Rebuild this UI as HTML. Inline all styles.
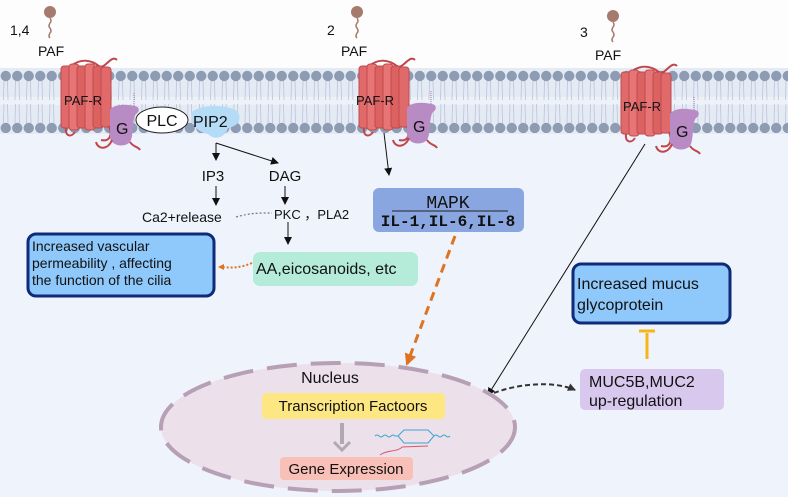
<!DOCTYPE html>
<html><head><meta charset="utf-8"><style>
html,body{margin:0;padding:0;background:#fff}
svg{display:block}
text{font-family:"Liberation Sans",sans-serif;fill:#111}
</style></head><body>
<svg width="788" height="497" viewBox="0 0 788 497" xmlns="http://www.w3.org/2000/svg">
<defs>
<pattern id="beads" x="0" y="0" width="11.5" height="70" patternUnits="userSpaceOnUse">
<circle cx="5.75" cy="6" r="5.2" fill="#8e9cb3"/>
<circle cx="5.75" cy="58" r="5.2" fill="#8e9cb3"/>
<path d="M4 11 L3.5 30 M7.5 11 L8 30 M4 34 L3.5 53 M7.5 34 L8 53" stroke="#b9c4d8" stroke-width="0.8" fill="none"/>
</pattern>
<marker id="ab" markerWidth="8" markerHeight="8" refX="7" refY="4" orient="auto" markerUnits="userSpaceOnUse"><path d="M0,0 L8,4 L0,8 z" fill="#111"/></marker>
<marker id="ao" markerWidth="12" markerHeight="12" refX="10" refY="6" orient="auto" markerUnits="userSpaceOnUse"><path d="M0,0 L12,6 L0,12 z" fill="#e0731f"/></marker>
<marker id="ad" markerWidth="8" markerHeight="8" refX="7" refY="4" orient="auto" markerUnits="userSpaceOnUse"><path d="M0,0 L8,4 L0,8 z" fill="#333"/></marker>
<g id="rec">
<path d="M10 2 C20 -6 30 -4 38 2 C44 6 50 -10 56 -4" stroke="#c0464a" stroke-width="2" fill="none"/>
<rect x="0" y="2" width="10" height="62" rx="3" fill="#e06a6a" stroke="#c04a4e"/>
<rect x="8" y="0" width="10" height="66" rx="3" fill="#e87575" stroke="#c04a4e"/>
<rect x="16" y="2" width="10" height="62" rx="3" fill="#dc6262" stroke="#c04a4e"/>
<rect x="24" y="0" width="10" height="66" rx="3" fill="#e87575" stroke="#c04a4e"/>
<rect x="32" y="2" width="10" height="62" rx="3" fill="#dc6262" stroke="#c04a4e"/>
<rect x="40" y="3" width="10" height="60" rx="3" fill="#e06a6a" stroke="#c04a4e"/>
<path d="M48 62 C52 72 48 78 40 76 M5 64 C4 72 10 74 14 68" stroke="#c0464a" stroke-width="2" fill="none"/>
</g>
<g id="gp">
<path d="M0 4 C4 -2 16 -2 24 0 C30 0 30 6 26 8 C22 12 24 30 20 36 C14 42 2 40 0 32 Z" fill="#b98bc4"/>
<path d="M24 0 L24 -14" stroke="#a36db0" stroke-width="1" stroke-dasharray="1 1"/>
<path d="M2 34 C-2 44 -12 44 -14 36 M20 36 C24 42 28 40 30 44" stroke="#c0464a" stroke-width="2" fill="none"/>
</g>
<g id="paf">
<circle cx="0" cy="0" r="6" fill="#a77a6e"/>
<path d="M0 6 q2 3 0 5 q-2 3 0 5 q2 3 0 5 q-2 3 0 5" stroke="#a77a6e" stroke-width="1.5" fill="none"/>
</g>
</defs>
<rect width="788" height="497" fill="#eef3fc"/>
<rect width="788" height="68" fill="#fdfdfe"/>
<rect y="68" width="788" height="66" fill="#e5ebf5"/>
<rect y="97" width="788" height="8" fill="#edf2f9"/>
<rect y="69" width="788" height="64" fill="url(#beads)"/>

<use href="#paf" x="50" y="12"/>
<text x="10" y="35" font-size="14">1,4</text>
<text x="38" y="56" font-size="14">PAF</text>
<use href="#rec" x="61" y="64"/>
<text x="64" y="105" font-size="13">PAF-R</text>
<use href="#gp" x="110" y="106"/>
<text x="116" y="134" font-size="16">G</text>
<ellipse cx="162" cy="120" rx="26" ry="13" fill="#fff" stroke="#222" stroke-width="1"/>
<text x="162" y="126" font-size="16" text-anchor="middle">PLC</text>
<path d="M192 112 C200 104 230 104 238 112 C242 120 238 126 228 128 C226 136 216 142 208 134 C200 132 190 128 192 112 Z" fill="#b5dcf7"/>
<text x="193" y="127" font-size="16">PIP2</text>

<use href="#paf" x="357" y="12"/>
<text x="327" y="35" font-size="14">2</text>
<text x="341" y="56" font-size="14">PAF</text>
<use href="#rec" x="359" y="64"/>
<text x="356" y="105" font-size="13">PAF-R</text>
<use href="#gp" x="407" y="104"/>
<text x="413" y="132" font-size="16">G</text>

<use href="#paf" x="613" y="16"/>
<text x="580" y="37" font-size="14">3</text>
<text x="595" y="60" font-size="14">PAF</text>
<use href="#rec" x="621" y="70"/>
<text x="623" y="111" font-size="13">PAF-R</text>
<use href="#gp" x="670" y="110"/>
<text x="676" y="137" font-size="16">G</text>

<line x1="216" y1="143" x2="216" y2="160" stroke="#111" marker-end="url(#ab)"/>
<line x1="216" y1="143" x2="278" y2="163" stroke="#111" marker-end="url(#ab)"/>
<text x="213" y="181" font-size="15" text-anchor="middle">IP3</text>
<text x="285" y="181" font-size="15" text-anchor="middle">DAG</text>
<line x1="216" y1="186" x2="216" y2="205" stroke="#111" marker-end="url(#ab)"/>
<line x1="285" y1="186" x2="285" y2="204" stroke="#111" marker-end="url(#ab)"/>
<text x="142" y="222" font-size="14">Ca2+release</text>
<path d="M236 217 C250 213 258 213 272 213" stroke="#777" stroke-width="1.2" stroke-dasharray="2 2" fill="none"/>
<text x="274" y="219" font-size="13">PKC ，PLA2</text>
<line x1="288" y1="222" x2="288" y2="244" stroke="#111" marker-end="url(#ab)"/>
<rect x="28" y="234" width="186" height="62" rx="8" fill="#8fc8fb" stroke="#0e2a78" stroke-width="3"/>
<text font-size="14"><tspan x="32" y="251">Increased vascular</tspan><tspan x="32" y="268">permeability , affecting</tspan><tspan x="32" y="285">the function of the cilia</tspan></text>
<rect x="253" y="252" width="165" height="34" rx="7" fill="#b4ebd9"/>
<text x="256" y="274" font-size="16">AA,eicosanoids, etc</text>
<path d="M252 263 C240 268 232 268 222 267" stroke="#e0731f" stroke-width="2" stroke-dasharray="2 2" fill="none"/>
<path d="M218 267 L224 264 L224 270 z" fill="#e0731f"/>

<line x1="384" y1="133" x2="389" y2="175" stroke="#111" marker-end="url(#ab)"/>
<rect x="373" y="188" width="151" height="44" rx="6" fill="#8aa6e0"/>
<text x="448" y="208" font-size="18" text-anchor="middle" style="font-family:'Liberation Mono',monospace">MAPK</text>
<line x1="392" y1="211" x2="508" y2="211" stroke="#222"/>
<text x="448" y="226" font-size="16" text-anchor="middle" style="font-family:'Liberation Mono',monospace" font-weight="bold">IL-1,IL-6,IL-8</text>
<line x1="455" y1="236" x2="407" y2="364" stroke="#e0731f" stroke-width="3" stroke-dasharray="9 6" marker-end="url(#ao)"/>

<line x1="645" y1="144" x2="488" y2="395" stroke="#111" stroke-width="1" marker-end="url(#ab)"/>
<rect x="573" y="264" width="157" height="59" rx="8" fill="#8fc8fb" stroke="#0e2a78" stroke-width="3"/>
<text font-size="16"><tspan x="577" y="289">Increased mucus</tspan><tspan x="577" y="310">glycoprotein</tspan></text>
<line x1="647" y1="359" x2="647" y2="333" stroke="#f6b618" stroke-width="3"/>
<line x1="639" y1="331" x2="655" y2="331" stroke="#f6b618" stroke-width="3"/>
<rect x="580" y="369" width="144" height="41" rx="5" fill="#d9c8ee"/>
<text font-size="16"><tspan x="589" y="387">MUC5B,MUC2</tspan><tspan x="589" y="406">up-regulation</tspan></text>
<path d="M494 393 C520 383 555 381 575 390" stroke="#333" stroke-width="2" stroke-dasharray="5 3" fill="none" marker-end="url(#ad)"/>

<ellipse cx="338" cy="427" rx="177" ry="64" fill="#ece0ea" stroke="#b79fb6" stroke-width="4" stroke-dasharray="30 14"/>
<text x="330" y="383" font-size="16" text-anchor="middle">Nucleus</text>
<rect x="262" y="393" width="183" height="26" rx="4" fill="#fde783"/>
<text x="353" y="411" font-size="15" text-anchor="middle">Transcription Factoors</text>
<line x1="342" y1="423" x2="342" y2="444" stroke="#b0aab0" stroke-width="4"/>
<path d="M334 442 L342 450 L350 442" stroke="#b0aab0" stroke-width="3" fill="none"/>
<rect x="280" y="457" width="133" height="23" rx="4" fill="#f8c0b6"/>
<text x="346" y="474" font-size="15" text-anchor="middle">Gene Expression</text>
<path d="M375 436 q2 -2 4 0 q2 2 4 0 q2 -2 4 0 q2 2 4 0 q2 -2 4 0 L398 436 L404 430 L428 430 L434 436 q2 -2 4 0 q2 2 4 0 q2 -2 4 0 q2 2 4 0 M398 436 L404 443 L428 443 L434 436" stroke="#3aa6d0" stroke-width="1" fill="none"/>
<path d="M380 455 C386 450 398 452 402 447 L428 446" stroke="#d9566a" stroke-width="1" fill="none"/>
</svg>
</body></html>
